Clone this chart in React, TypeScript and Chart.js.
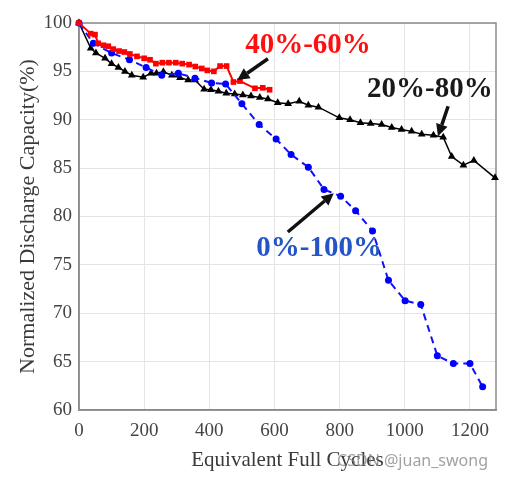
import React, { useEffect, useRef } from "react";
import { Chart, registerables } from "chart.js";

Chart.register(...registerables);

// 40%-60% DoD (red squares)
const redCycles = [0, 36, 49, 59, 75, 90, 105, 123, 139, 156, 178, 200, 218, 236, 256, 276, 297, 317, 338, 357, 377, 394, 414, 433, 453, 474, 494, 540, 564, 585];
const redCapacity = [100, 98.9, 98.8, 97.9, 97.7, 97.6, 97.3, 97.1, 97.0, 96.8, 96.55, 96.35, 96.2, 95.8, 95.9, 95.9, 95.9, 95.8, 95.7, 95.5, 95.3, 95.1, 95.0, 95.55, 95.55, 93.9, 94.0, 93.25, 93.3, 93.1];

// 0%-100% DoD (blue circles, dashed)
const blueCycles = [0, 44, 100, 155, 206, 254, 305, 356, 407, 450, 500, 553, 605, 651, 704, 752, 803, 849, 901, 950, 1001, 1049, 1100, 1149, 1200, 1239];
const blueCapacity = [100, 97.9, 96.9, 96.2, 95.4, 94.6, 94.8, 94.3, 93.8, 93.7, 91.65, 89.5, 88.0, 86.4, 85.1, 82.8, 82.1, 80.6, 78.5, 73.4, 71.3, 70.9, 65.6, 64.8, 64.8, 62.4];

// 20%-80% DoD (black triangles)
const blackCycles = [0, 36, 52, 80, 100, 121, 141, 162, 197, 221, 238, 259, 285, 310, 335, 356, 384, 405, 428, 452, 478, 503, 528, 555, 580, 610, 642, 676, 704, 735, 799, 832, 864, 895, 929, 960, 990, 1021, 1052, 1088, 1118, 1144, 1180, 1212, 1277];
const blackCapacity = [100, 97.4, 96.9, 96.35, 95.8, 95.4, 95.0, 94.6, 94.4, 94.8, 94.8, 94.95, 94.6, 94.35, 94.1, 94.1, 93.15, 93.1, 92.95, 92.75, 92.65, 92.55, 92.45, 92.3, 92.15, 91.75, 91.65, 91.9, 91.5, 91.3, 90.2, 90.0, 89.7, 89.6, 89.5, 89.2, 89.0, 88.8, 88.5, 88.4, 88.2, 86.2, 85.3, 85.8, 84.0];

const xTickValues = [0, 200, 400, 600, 800, 1000, 1200];
const yTickValues = [60, 65, 70, 75, 80, 85, 90, 95, 100];

// Annotation labels and arrows (data units)
const annotationLabels = [
  { text: "40%-60%", x: 703, y: 97.7, color: "#ff1010" },
  { text: "20%-80%", x: 1077, y: 93.1, color: "#1a1a1a" },
  { text: "0%-100%", x: 737, y: 76.65, color: "#2454c8" },
];
const annotationArrows = [
  { x0: 580, y0: 96.3, x1: 486, y1: 94.1 },
  { x0: 1133, y0: 91.4, x1: 1102, y1: 88.3 },
  { x0: 641, y0: 78.4, x1: 782, y1: 82.4 },
];

const pts = (xs: number[], ys: number[]) => xs.map((x, i) => ({ x, y: ys[i] }));

const SERIF = '"Liberation Serif", "Times New Roman", serif';

function drawArrow(ctx: CanvasRenderingContext2D, x0: number, y0: number, x1: number, y1: number) {
  const ang = Math.atan2(y1 - y0, x1 - x0);
  const headLen = 12;
  const headW = 6;
  const bx = x1 - headLen * Math.cos(ang);
  const by = y1 - headLen * Math.sin(ang);
  ctx.save();
  ctx.strokeStyle = "#111";
  ctx.fillStyle = "#111";
  ctx.lineWidth = 3.5;
  ctx.beginPath();
  ctx.moveTo(x0, y0);
  ctx.lineTo(bx, by);
  ctx.stroke();
  ctx.beginPath();
  ctx.moveTo(x1, y1);
  ctx.lineTo(bx + headW * Math.sin(ang), by - headW * Math.cos(ang));
  ctx.lineTo(bx - headW * Math.sin(ang), by + headW * Math.cos(ang));
  ctx.closePath();
  ctx.fill();
  ctx.restore();
}

const framePlugin = {
  id: "frame",
  beforeDatasetsDraw(chart: any) {
    const { ctx, chartArea: ca } = chart;
    ctx.save();
    ctx.strokeStyle = "#8a8a8a";
    ctx.lineWidth = 1.5;
    ctx.strokeRect(ca.left, ca.top, ca.right - ca.left, ca.bottom - ca.top);
    ctx.restore();
  },
  afterDatasetsDraw(chart: any) {
    const { ctx } = chart;
    const xs = chart.scales.x;
    const ys = chart.scales.y;
    ctx.save();
    ctx.font = `bold 29px ${SERIF}`;
    ctx.textAlign = "center";
    ctx.textBaseline = "middle";
    annotationLabels.forEach((l) => {
      ctx.fillStyle = l.color;
      ctx.fillText(l.text, xs.getPixelForValue(l.x), ys.getPixelForValue(l.y));
    });
    ctx.restore();
    annotationArrows.forEach((a) =>
      drawArrow(ctx, xs.getPixelForValue(a.x0), ys.getPixelForValue(a.y0), xs.getPixelForValue(a.x1), ys.getPixelForValue(a.y1))
    );
  },
  afterDraw(chart: any) {
    const { ctx } = chart;
    ctx.save();
    ctx.font = '16px "Noto Sans", sans-serif';
    ctx.fillStyle = "rgba(130,130,130,0.75)";
    ctx.textAlign = "right";
    ctx.textBaseline = "middle";
    ctx.fillText("CSDN @juan_swong", 488, 461);
    ctx.restore();
  },
};

export default function App() {
  const ref = useRef<HTMLCanvasElement>(null);
  useEffect(() => {
    if (!ref.current) return;
    const chart = new Chart(ref.current, {
      type: "line",
      data: {
        datasets: [
          {
            label: "40%-60%",
            data: pts(redCycles, redCapacity),
            borderColor: "#ff0000",
            backgroundColor: "#ff0000",
            borderWidth: 2,
            pointStyle: "rect",
            pointRadius: 4,
            pointBorderWidth: 0,
            clip: false,
          },
          {
            label: "0%-100%",
            data: pts(blueCycles, blueCapacity),
            borderColor: "#1010ff",
            backgroundColor: "#0000ff",
            borderWidth: 2,
            borderDash: [7, 5],
            pointStyle: "circle",
            pointRadius: 3.5,
            pointBorderWidth: 0,
            clip: false,
          },
          {
            label: "20%-80%",
            data: pts(blackCycles, blackCapacity),
            borderColor: "#000000",
            backgroundColor: "#000000",
            borderWidth: 1.5,
            pointStyle: "triangle",
            pointRadius: 4.5,
            pointBorderWidth: 0,
            clip: false,
          },
        ],
      },
      options: {
        animation: false,
        responsive: true,
        maintainAspectRatio: false,
        layout: { padding: { left: 0, top: 23, right: 12, bottom: 0 } },
        plugins: { legend: { display: false }, tooltip: { enabled: false } },
        elements: { line: { tension: 0 } },
        scales: {
          x: {
            type: "linear",
            min: 0,
            max: 1280,
            afterBuildTicks: (s: any) => {
              s.ticks = xTickValues.map((v) => ({ value: v }));
            },
            afterFit: (s: any) => {
              s.height = 76;
            },
            grid: { color: "#e4e4e4", lineWidth: 1, drawTicks: false },
            border: { color: "#8a8a8a", width: 1.5 },
            ticks: {
              padding: 10,
              color: "#444",
              font: { family: SERIF, size: 19 },
              maxRotation: 0,
              callback: (v: any) => String(v),
            },
            title: {
              display: true,
              text: "Equivalent Full Cycles",
              color: "#3a3a3a",
              font: { family: SERIF, size: 21 },
              padding: { top: 0, bottom: 13 },
            },
          },
          y: {
            type: "linear",
            min: 60,
            max: 100,
            afterBuildTicks: (s: any) => {
              s.ticks = yTickValues.map((v) => ({ value: v }));
            },
            afterFit: (s: any) => {
              s.width = 79;
            },
            grid: { color: "#e4e4e4", lineWidth: 1, drawTicks: false },
            border: { color: "#8a8a8a", width: 1.5 },
            ticks: {
              padding: 7,
              color: "#444",
              font: { family: SERIF, size: 19 },
              callback: (v: any) => String(v),
            },
            title: {
              display: true,
              text: "Normalized Discharge Capacity(%)",
              color: "#3a3a3a",
              font: { family: SERIF, size: 22 },
              padding: { top: 15, bottom: 0 },
            },
          },
        },
      },
      plugins: [framePlugin],
    } as any);
    return () => chart.destroy();
  }, []);
  return (
    <div style={{ position: "fixed", left: 0, top: 0, width: 508, height: 486, background: "#fff" }}>
      <canvas ref={ref} />
    </div>
  );
}
